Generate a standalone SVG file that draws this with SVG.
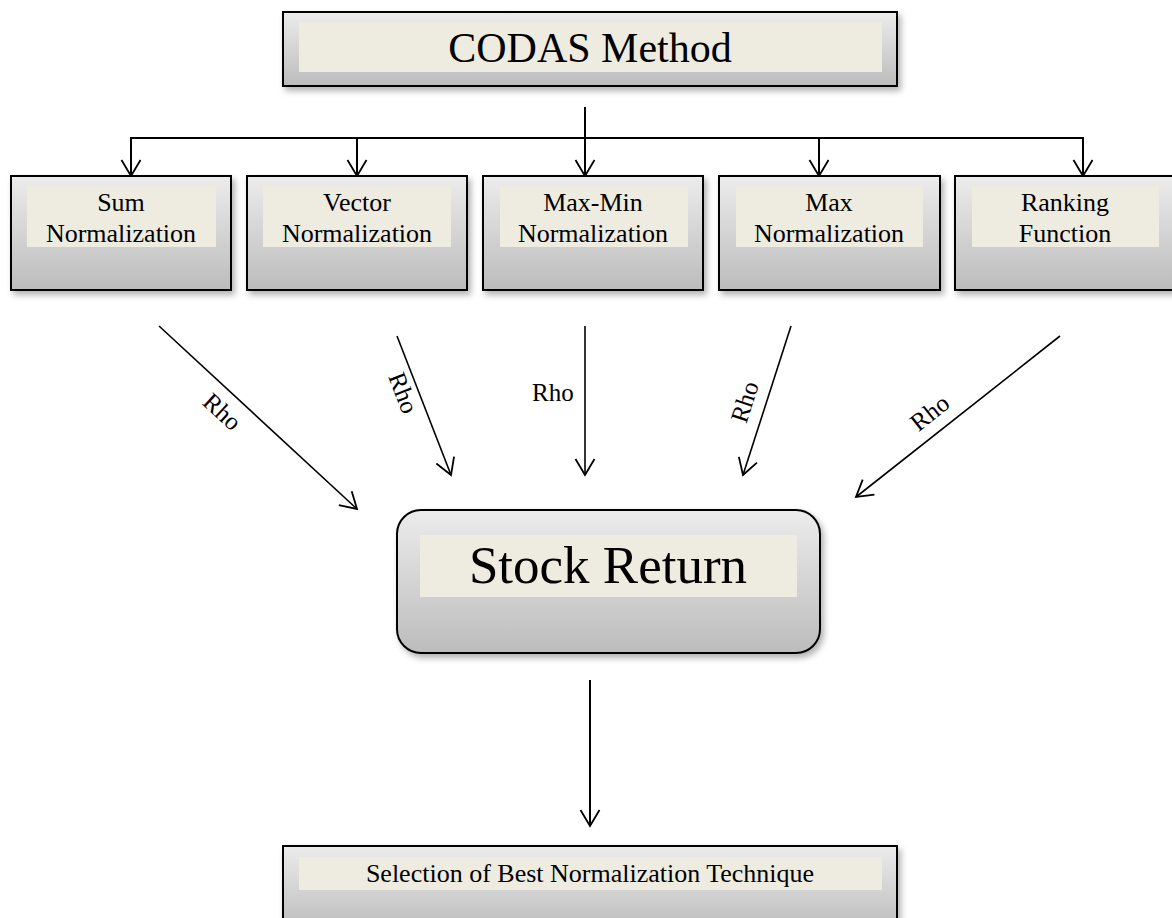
<svg xmlns="http://www.w3.org/2000/svg" width="1172" height="918" viewBox="0 0 1172 918">
<style>
.box{fill:url(#g);stroke:#000;stroke-width:2;filter:url(#sh)}
.pan{fill:#EEECE1}
.t{font-family:"Liberation Serif","Times New Roman",serif;fill:#000}
.n{font-size:26px;text-anchor:middle}
.rho{font-size:25px;text-anchor:middle}
.c{fill:none;stroke:#000;stroke-width:2}
.r{fill:none;stroke:#000;stroke-width:1.6}
</style>
<defs>
<linearGradient id="g" x1="0" y1="0" x2="0" y2="1">
<stop offset="0" stop-color="#ececec"/>
<stop offset="1" stop-color="#bcbcbc"/>
</linearGradient>
<filter id="sh" x="-10%" y="-10%" width="125%" height="140%">
<feDropShadow dx="3" dy="4" stdDeviation="3" flood-color="#000" flood-opacity="0.3"/>
</filter>
<marker id="a" viewBox="-18 -11 20 22" markerWidth="20" markerHeight="22" refX="0" refY="0" orient="auto" markerUnits="userSpaceOnUse">
<path d="M-16,-9.5 L0,0 L-16,9.5" fill="none" stroke="#000" stroke-width="1.8"/>
</marker>
</defs>

<g id="connectors">
<line class="c" x1="585" y1="107" x2="585" y2="176" marker-end="url(#a)"/>
<polyline class="c" points="131,176 131,138 1083,138 1083,176" marker-end="url(#a)"/>
<line class="c" x1="131" y1="138" x2="131" y2="176" marker-end="url(#a)"/>
<line class="c" x1="357" y1="138" x2="357" y2="176" marker-end="url(#a)"/>
<line class="c" x1="819" y1="138" x2="819" y2="176" marker-end="url(#a)"/>
<line class="r" x1="159" y1="326" x2="357" y2="509" marker-end="url(#a)"/>
<line class="r" x1="397" y1="336" x2="451" y2="475" marker-end="url(#a)"/>
<line class="r" x1="585" y1="326" x2="585" y2="475" marker-end="url(#a)"/>
<line class="r" x1="791" y1="326" x2="743" y2="475" marker-end="url(#a)"/>
<line class="r" x1="1060" y1="336" x2="856" y2="497" marker-end="url(#a)"/>
<line class="c" x1="590" y1="680" x2="590" y2="826" marker-end="url(#a)"/>
<text class="t rho" transform="translate(222,412) rotate(42.7)" y="8">Rho</text>
<text class="t rho" transform="translate(403,393) rotate(68.8)" y="8">Rho</text>
<text class="t" font-size="25" x="532" y="401">Rho</text>
<text class="t rho" transform="translate(745,402) rotate(-72)" y="8">Rho</text>
<text class="t rho" transform="translate(930,413) rotate(-38.3)" y="8">Rho</text>
</g>

<g id="codas">
<rect class="box" x="283" y="12" width="614" height="74"/>
<rect class="pan" x="299" y="22" width="583" height="50"/>
<text class="t" font-size="42" text-anchor="middle" x="590" y="62">CODAS Method</text>
</g>

<g id="sum">
<rect class="box" x="11" y="176" width="220" height="114"/>
<rect class="pan" x="27" y="186" width="189" height="61"/>
<text class="t n" x="121" y="211">Sum</text>
<text class="t n" x="121" y="242">Normalization</text>
</g>

<g id="vector">
<rect class="box" x="247" y="176" width="220" height="114"/>
<rect class="pan" x="263" y="186" width="188" height="61"/>
<text class="t n" x="357" y="211">Vector</text>
<text class="t n" x="357" y="242">Normalization</text>
</g>

<g id="maxmin">
<rect class="box" x="483" y="176" width="220" height="114"/>
<rect class="pan" x="500" y="186" width="188" height="61"/>
<text class="t n" x="593" y="211">Max-Min</text>
<text class="t n" x="593" y="242">Normalization</text>
</g>

<g id="max">
<rect class="box" x="719" y="176" width="221" height="114"/>
<rect class="pan" x="736" y="186" width="187" height="61"/>
<text class="t n" x="829" y="211">Max</text>
<text class="t n" x="829" y="242">Normalization</text>
</g>

<g id="ranking">
<rect class="box" x="955" y="176" width="220" height="114"/>
<rect class="pan" x="972" y="186" width="187" height="61"/>
<text class="t n" x="1065" y="211">Ranking</text>
<text class="t n" x="1065" y="242">Function</text>
</g>

<g id="stock">
<rect class="box" x="397" y="510" width="423" height="143" rx="24" ry="24"/>
<rect class="pan" x="420" y="535" width="377" height="62"/>
<text class="t" font-size="53" text-anchor="middle" x="608" y="583">Stock Return</text>
</g>

<g id="selection">
<rect class="box" x="283" y="846" width="614" height="84"/>
<rect class="pan" x="299" y="857" width="583" height="33"/>
<text class="t" font-size="26" text-anchor="middle" x="590" y="882">Selection of Best Normalization Technique</text>
</g>
</svg>
